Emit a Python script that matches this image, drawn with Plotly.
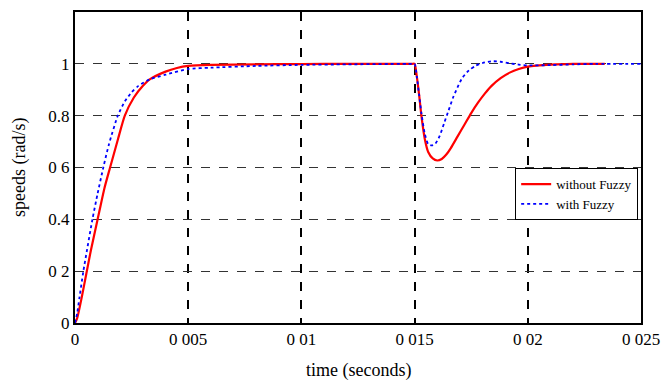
import plotly.graph_objects as go

# Without Fuzzy (red)
t_red = [0, 0.0001, 0.0003, 0.0005, 0.0007, 0.001, 0.0013, 0.00155, 0.0019, 0.0022, 0.0026,
         0.003, 0.0033, 0.004, 0.0045, 0.005, 0.006, 0.008, 0.01, 0.012, 0.0149, 0.015,
         0.0151, 0.0152, 0.0153, 0.01545, 0.0156, 0.0158, 0.016, 0.0162, 0.0164, 0.0166,
         0.0169, 0.0172, 0.0175, 0.0178, 0.0181, 0.0184, 0.0188, 0.0192, 0.0196, 0.02,
         0.021, 0.022, 0.0234]
v_red = [0, 0.02, 0.1, 0.19, 0.28, 0.4, 0.52, 0.6, 0.71, 0.8, 0.87,
         0.915, 0.94, 0.97, 0.984, 0.992, 0.996, 0.998, 0.999, 1.0, 1.0, 1.0,
         0.95, 0.88, 0.8, 0.71, 0.66, 0.635, 0.627, 0.633, 0.65, 0.675,
         0.72, 0.765, 0.81, 0.85, 0.885, 0.915, 0.945, 0.966, 0.98, 0.989,
         0.997, 1.0, 1.0]

# With Fuzzy (blue)
t_blue = [0, 0.0001, 0.0002, 0.00037, 0.00077, 0.001, 0.00125, 0.0015, 0.00189, 0.0022, 0.0025,
          0.0028, 0.0033, 0.004, 0.005, 0.006, 0.008, 0.01, 0.012, 0.0149, 0.015,
          0.0151, 0.0152, 0.0153, 0.01545, 0.0156, 0.01575, 0.0159, 0.0161, 0.0163, 0.0165,
          0.0167, 0.0169, 0.0171, 0.0174, 0.0177, 0.018, 0.0184, 0.0188, 0.0192, 0.0196,
          0.02, 0.021, 0.022, 0.023, 0.025]
v_blue = [0, 0.04, 0.1, 0.2, 0.4, 0.5, 0.6, 0.69, 0.8, 0.855, 0.89,
          0.915, 0.94, 0.958, 0.98, 0.985, 0.992, 0.996, 0.998, 1.0, 1.0,
          0.95, 0.88, 0.81, 0.73, 0.69, 0.685, 0.69, 0.72, 0.77, 0.82,
          0.87, 0.91, 0.945, 0.975, 0.993, 1.003, 1.01, 1.008, 1.002, 0.997,
          0.994, 0.995, 0.998, 1.0, 1.0]

x_ticks = [0, 0.005, 0.01, 0.015, 0.02, 0.025]
x_labels = ["0", "0 005", "0 01", "0 015", "0 02", "0 025"]
y_ticks = [0, 0.2, 0.4, 0.6, 0.8, 1.0]
y_labels = ["0", "0 2", "0.4", "0 6", "0.8", "1"]

font = "Liberation Serif, Times New Roman, serif"

fig = go.Figure()
fig.add_trace(go.Scatter(x=t_red, y=v_red, mode="lines", name="without Fuzzy",
                         line=dict(color="#ff0000", width=2.2, shape="spline", smoothing=0.6)))
fig.add_trace(go.Scatter(x=t_blue, y=v_blue, mode="lines", name="with Fuzzy",
                         line=dict(color="#0000ff", width=1.8, dash="dot", shape="spline", smoothing=0.6)))

fig.update_layout(
    width=664, height=380,
    margin=dict(l=75, r=23, t=12, b=57),
    paper_bgcolor="white", plot_bgcolor="white",
    font=dict(family=font, size=17, color="black"),
    showlegend=True,
    legend=dict(x=0.995, y=0.498, xanchor="right", yanchor="top",
                bordercolor="black", borderwidth=1, bgcolor="white",
                font=dict(family=font, size=13), tracegroupgap=0,
                itemwidth=30),
    xaxis=dict(range=[0, 0.025], tickvals=x_ticks, ticktext=x_labels,
               showgrid=True, gridcolor="black", griddash="dash", gridwidth=1.5,
               showline=True, linecolor="black", linewidth=2, mirror=True,
               ticks="", zeroline=False, automargin=False,
               tickfont=dict(size=17)),
    yaxis=dict(range=[0, 1.2], tickvals=y_ticks, ticktext=y_labels,
               showgrid=True, gridcolor="#333333", griddash="dash", gridwidth=1,
               showline=True, linecolor="black", linewidth=2, mirror=True,
               ticks="", zeroline=False, automargin=False,
               tickfont=dict(size=17)),
    annotations=[
        dict(text="time (seconds)", xref="paper", yref="paper", x=0.5, y=-0.152,
             xanchor="center", yanchor="middle", showarrow=False,
             font=dict(family=font, size=18)),
        dict(text="speeds (rad/s)", xref="paper", yref="paper", x=-0.098, y=0.5,
             xanchor="center", yanchor="middle", showarrow=False, textangle=-90,
             font=dict(family=font, size=18)),
    ],
)

fig.write_html("out.html")
